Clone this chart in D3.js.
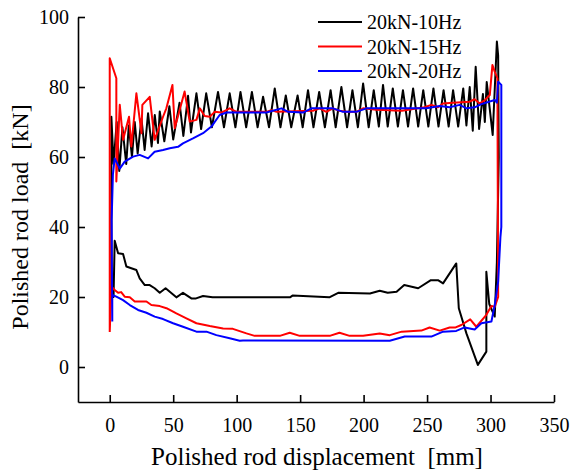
<!DOCTYPE html>
<html>
<head>
<meta charset="utf-8">
<script src="https://cdn.jsdelivr.net/npm/d3@7"></script>
<style>
  body { margin: 0; background: #fff; }
  svg { font-family: "Liberation Serif", "Times New Roman", serif; }
  .axis path, .axis line { stroke: #000; stroke-width: 1.6px; }
  .axis text { font-size: 20px; fill: #000; font-family: "Liberation Serif", serif; }
</style>
</head>
<body>
<svg width="572" height="470"></svg>
<script>
// series: [displacement mm, load kN], each one closed loop
var series10Hz = [[1.3,20],[1.3,71.5],[3,58],[5.5,70],[7.5,56],[10,68.5],[13,58],[15,69],[17.5,60],[19.7,70],
    [22,61],[25,71],[27.5,62],[30.2,72.5],[33,63],[35.5,72],[38,64],[39.4,73],[43,64.5],[47,74.5],[50,65],
    [55,75.5],[58,66],[61.7,77.5],[64,67],[68.3,78.2],[72,68],[76,78.2],[80.5,68.5],[85.3,78.6],[90,68.5],
    [94.5,78.2],[99,68.5],[103,78.6],[107.5,68.5],[112,78.6],[116.5,68.5],[120.8,77.2],[125.5,68.5],[130,79.6],
    [134.5,68.5],[138.7,77.6],[143,68.5],[148,77.6],[152,68.5],[156.2,79.1],[160.5,68.5],[165,78.6],[169.5,68.5],
    [174,79.1],[178,68.5],[182.5,80],[187,68.5],[191.2,79.1],[195.5,68.5],[199.6,81],[204,68.5],[208,79.1],
    [212,68.7],[215.3,80.6],[219,68.7],[223,79.6],[227,68.7],[231,79.1],[235,68.7],[239,79.6],[243,68.7],
    [247,79.1],[251,68.7],[255,79.6],[259,68.7],[263,79.1],[267,68.7],[270.5,79.1],[274.5,68.7],[278.5,79.6],
    [281,69],[283.6,80],[286,67.5],[288.3,85.8],[291,68],[294,78],[295.5,70],[297,81.4],[301.7,66.3],[305,93],
    [306,89],[306.5,60],[305,30],[303.3,14.4],[299,18],[296.7,27.2],[296.7,4.4],[290,0.6],[281,9.6],[275,16.8],
    [273,29.6],[262.6,23.9],[258.6,24.8],[253,24.8],[243,22.5],[232,23.4],[226,21.5],[219,21.2],[212.7,21.8],
    [205,21],[180,21.2],[173,19.9],[144,20.4],[142,19.9],[118,19.9],[81,19.9],[73.5,20.3],[68,19.6],[64.3,19.6],
    [57.7,21.2],[52.5,19.9],[44,22.5],[39.4,21.2],[35.4,22.5],[31.5,23.4],[27.6,23.4],[23.6,25.3],[21,27.7],
    [17,28.2],[13.1,28.7],[10.5,32.3],[6.6,32.5],[3.9,36.1],[3,20],[1.3,20]];

var series15Hz = [[0,10],[0,88.2],[5.2,82.5],[5.2,53],[7.9,74.9],[10.5,64.9],[15.2,71.5],[17,63],[21,78.2],
    [25,66.8],[25.7,74.9],[31.5,77.2],[35.4,64.9],[42,71.5],[44.6,73.9],[49.4,80.6],[51.2,68.2],[59,78.7],
    [63,70.1],[68.3,70.6],[71,73.9],[74.8,71.7],[78.8,71.5],[82.7,72.9],[88,72.7],[94.5,73.9],[99.8,72.9],
    [123.4,72.9],[127.4,73.4],[131.4,72.9],[160,73.2],[165.4,73.9],[170.6,72.9],[175.8,73.9],[181,73.2],
    [186.5,72.9],[194.3,72.9],[199.6,73.9],[210,73.5],[230,73.2],[248,74.2],[253.4,74.9],[258.6,74.2],
    [262.6,75.3],[270.5,75.5],[283.6,75.8],[287.5,76.5],[291.5,75.3],[295.4,76.2],[299.4,77.7],[301.5,86.3],
    [303.3,84.4],[305.4,82.5],[305.8,40],[306,20],[303.3,17.2],[300.7,17.4],[296.7,14.9],[288.8,11.5],
    [284,13.6],[277,12],[272.5,11.3],[267.8,11.3],[260,10.4],[252,11.3],[245.5,10.4],[230,10.1],[220.6,9.1],
    [212.7,9.6],[199.6,8.9],[189,8.9],[181,9.8],[173.3,8.9],[149.7,8.9],[141.8,9.8],[134,8.9],[114.2,8.9],
    [107.7,9.6],[97,10.9],[89.3,11],[78.8,11.7],[68.3,12.5],[60.4,13.9],[52.5,15.3],[44.7,16.8],[39.4,17.4],
    [32.8,17.7],[28.9,18.7],[19.7,18.7],[15.8,19.9],[11.8,20.1],[9,21.4],[6.6,21.2],[3.9,22],[1.3,23],[0,10]];

var series20Hz = [[2,13],[1.5,42],[2.5,55],[3.9,59.6],[7.9,56.7],[11.8,58.7],[18.4,60.1],[23.6,60.6],
    [30.2,59.6],[35.4,61.5],[42,62],[47.3,62.5],[53.8,62.9],[57.7,63.9],[65.6,65.3],[73.5,66.8],[80.1,68.7],
    [86.6,72],[92,72.7],[123.4,72.7],[135.3,73.9],[140.5,72.9],[152.3,72.7],[158.9,73.9],[176,73.9],
    [183.8,72.9],[194.3,72.9],[202.2,73.9],[249.5,73.9],[260,74.6],[267.8,74.2],[275.7,74.9],[281,73.9],
    [287.5,74.2],[292.8,75.1],[303.3,76.3],[305,75.5],[306,81.5],[308.5,80.6],[308.5,40],[307.8,37.2],
    [306,24.4],[303.3,17.7],[300.7,13],[292.8,12.5],[287.5,10.7],[279.6,11.3],[273,10.3],[262.6,10.1],
    [253.4,8.7],[232.4,8.7],[220.6,7.5],[105,7.6],[102.4,7.5],[94.5,8.2],[84,9.1],[76.2,10.1],[68.3,10.1],
    [57.7,11.5],[49.9,12.5],[42,13.7],[35.4,14.4],[28.9,15.5],[22.3,16.3],[15.8,17.7],[10.5,19.1],[5.2,20.1],
    [2,20.6],[2,13]];

var names = ["20kN-10Hz", "20kN-15Hz", "20kN-20Hz"];
var colors = ["#000000", "#ff0000", "#0000ff"];
var xTicks = [0, 50, 100, 150, 200, 250, 300, 350];
var yTicks = [0, 20, 40, 60, 80, 100];

var svg = d3.select("svg");

var x = d3.scaleLinear().domain([-25, 350]).range([78, 554]);
var y = d3.scaleLinear().domain([-10, 100]).range([402, 17]);

svg.append("g")
    .attr("class", "axis x")
    .attr("transform", "translate(0,402)")
    .call(d3.axisBottom(x).tickValues(xTicks).tickSizeInner(-7).tickSizeOuter(0).tickPadding(16));

svg.append("g")
    .attr("class", "axis y")
    .attr("transform", "translate(78,0)")
    .call(d3.axisLeft(y).tickValues(yTicks).tickSizeInner(-7).tickSizeOuter(0).tickPadding(9));

var line = d3.line()
    .x(function(d) { return x(d[0]); })
    .y(function(d) { return y(d[1]); });

var data = [series10Hz, series15Hz, series20Hz];

svg.selectAll(".loop")
    .data(data)
    .enter().append("path")
    .attr("class", "loop")
    .attr("fill", "none")
    .attr("stroke", function(d, i) { return colors[i]; })
    .attr("stroke-width", 2)
    .attr("stroke-linejoin", "round")
    .attr("d", line);

// legend
var legend = svg.selectAll(".legend")
    .data(names)
    .enter().append("g")
    .attr("class", "legend")
    .attr("transform", function(d, i) { return "translate(318," + (22 + i * 24.5) + ")"; });

legend.append("line")
    .attr("x1", 0).attr("x2", 44)
    .attr("stroke", function(d, i) { return colors[i]; })
    .attr("stroke-width", 2);

legend.append("text")
    .attr("x", 49)
    .attr("y", 7)
    .style("font-size", "20px")
    .text(function(d) { return d; });

// axis titles
svg.append("text")
    .attr("x", 317)
    .attr("y", 465)
    .attr("text-anchor", "middle")
    .style("font-size", "25px")
    .style("white-space", "pre")
    .text("Polished rod displacement  [mm]");

svg.append("text")
    .attr("transform", "translate(28,217) rotate(-90)")
    .attr("text-anchor", "middle")
    .style("font-size", "24px")
    .style("white-space", "pre")
    .text("Polished rod load  [kN]");
</script>
</body>
</html>
